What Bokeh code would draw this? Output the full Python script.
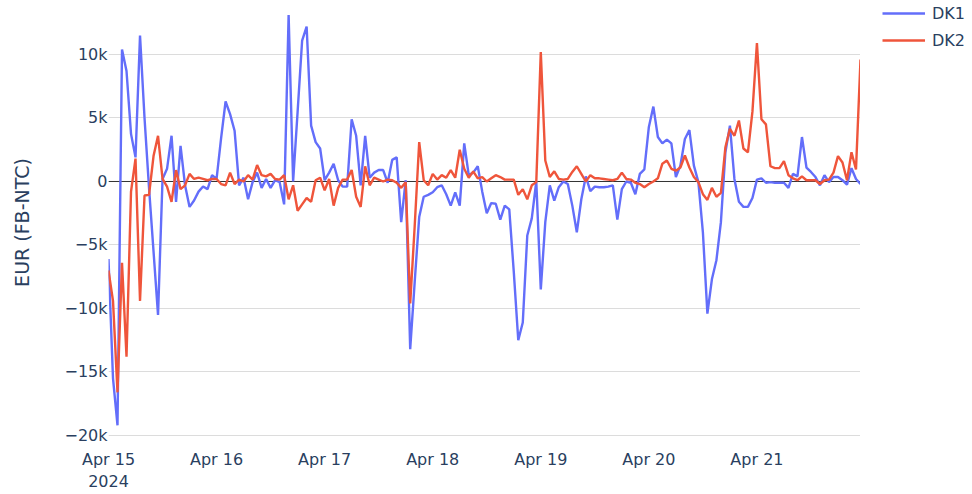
import pandas as pd
from bokeh.plotting import figure
from bokeh.layouts import row
from bokeh.models import (Range1d, FixedTicker, DaysTicker, DatetimeTickFormatter, Span,
                          Legend, LegendItem, ColumnDataSource)
from bokeh.embed import file_html
from bokeh.resources import INLINE

# ---- data (EUR, hourly from 2024-04-15 00:00) ----
START = "2024-04-15 00:00"
DK1 = [-6100, -15500, -19200, 10400, 8700, 3750, 1900, 11500, 5000, -500,
       -5500, -10500, 200, 1000, 3600, -1600, 2800, -300, -2000, -1500,
       -800, -400, -600, 500, 200, 3400, 6300, 5300, 4000, -300,
       300, -1400, -50, 700, -500, 200, -500, 100, -50, -1800,
       13100, 0, 5500, 11100, 12200, 4400, 3100, 2600, 100, 700,
       1400, 100, -400, -400, 4900, 3600, -300, 3600, 300, 700,
       900, 900, -100, 1700, 1900, -3200, 100, -13200, -7900, -2800,
       -1200, -1050, -850, -450, -300, -1000, -1900, -850, -1900, 3000,
       500, 700, 1200, -800, -2500, -1700, -1750, -3000, -1900, -2200,
       -7100, -12500, -11100, -4250, -2900, 0, -8500, -3200, -300, -1500,
       -450, 0, -200, -1900, -4000, -1400, 400, -750, -400, -450,
       -450, -400, -300, -3000, -600, 0, -100, -1000, 600, 950,
       4300, 5900, 3500, 3000, 3300, 3000, 350, 1250, 3350, 4050,
       1250, -50, -4000, -10400, -7700, -6200, -3200, 2300, 4400, 200,
       -1600, -2000, -2000, -1300, 150, 250, -100, -50, -100, -100,
       -100, -500, 600, 400, 3500, 1100, 750, 350, -300, 500,
       -50, 350, 350, 100, -250, 1050, 200, -200]
DK2 = [-7000, -9400, -16600, -6400, -13800, -800, 1800, -9400, -1100, -1050,
       2000, 3600, 200, -400, -1600, 900, -600, -300, 600, 200,
       300, 200, 100, 200, 200, -200, -300, 700, -200, 150,
       0, 500, 150, 1300, 500, 400, 600, 200, 150, 500,
       -1400, -300, -2300, -1800, -1300, -1600, 100, 300, -700, 200,
       -1900, -500, 150, 150, 900, -1200, -2000, 1200, -300, 300,
       150, 0, 150, 100, -100, -500, -50, -9600, -3500, 3100,
       100, -300, 600, 150, 500, 300, 900, 300, 2500, 1000,
       300, 800, 250, 350, 0, 250, 500, 350, 150, 150,
       150, -1050, -600, -1400, -300, -50, 10200, 1650, 350, 800,
       200, 150, 200, 750, 1200, 600, 0, 500, 250, 250,
       200, 150, 100, 200, 700, 200, 150, -100, -200, -450,
       -200, 0, 250, 1400, 1650, 1000, 850, 1100, 2050, 1100,
       350, -50, -1000, -1450, -500, -1200, -900, 2700, 4150, 3600,
       4800, 2600, 2300, 5500, 10900, 4900, 4500, 1200, 1050, 1050,
       1600, 500, 250, 100, 400, 100, 100, 100, -200, 100,
       150, 700, 2000, 1500, 100, 2300, 950, 9600]
SERIES = ["DK1", "DK2"]
COLORS = ["#636EFA", "#EF553B"]
Y_TICKS = [-20000, -15000, -10000, -5000, 0, 5000, 10000]
Y_LABELS = ["\u221220k", "\u221215k", "\u221210k", "\u22125k", "0", "5k", "10k"]
Y_TITLE = "EUR (FB-NTC)"

times = pd.date_range(START, periods=len(DK1), freq="h")
src = ColumnDataSource(dict(t=times, DK1=DK1, DK2=DK2))

FONT = "DejaVu Sans"
TXT = "#2a3f5f"

p = figure(width=860, height=494, x_axis_type="datetime", output_backend="svg",
           toolbar_location=None,
           x_range=Range1d(times[0], times[-1]), y_range=Range1d(-20709, 14252),
           min_border_left=108, min_border_right=0, min_border_top=0, min_border_bottom=50)
p.outline_line_color = None
p.background_fill_color = "white"
p.border_fill_color = "white"

p.xgrid.grid_line_color = None
p.ygrid.grid_line_color = "#dcdcdc"
p.ygrid.grid_line_width = 1

zero = Span(location=0, dimension="width", line_color="#333333", line_width=1, level="underlay")
p.add_layout(zero)

for name, col in zip(SERIES, COLORS):
    p.line(x="t", y=name, source=src, line_color=col, line_width=2.4)

# y axis
ya = p.yaxis[0]
ya.ticker = FixedTicker(ticks=Y_TICKS)
ya.major_label_overrides = {t: l for t, l in zip(Y_TICKS, Y_LABELS)}
ya.axis_line_color = None
ya.major_tick_line_color = None
ya.minor_tick_line_color = None
ya.major_tick_out = 0
ya.major_tick_in = 0
ya.major_label_standoff = 1
ya.major_label_text_font = FONT
ya.major_label_text_font_size = "16px"
ya.major_label_text_color = TXT
ya.axis_label = Y_TITLE
ya.axis_label_text_font = FONT
ya.axis_label_text_font_size = "19px"
ya.axis_label_text_font_style = "normal"
ya.axis_label_text_color = TXT
ya.axis_label_standoff = 28

# x axis
xa = p.xaxis[0]
xa.ticker = DaysTicker(days=list(range(1, 32)))
xa.formatter = DatetimeTickFormatter(days="%b %d", context="%Y", context_which="start",
                                     context_location="below")
xa.axis_line_color = None
xa.major_tick_line_color = None
xa.minor_tick_line_color = None
xa.major_tick_out = 0
xa.major_tick_in = 0
xa.major_label_standoff = 5
xa.major_label_text_font = FONT
xa.major_label_text_font_size = "16px"
xa.major_label_text_color = TXT

# ---- legend panel (separate narrow figure to the right) ----
lg = figure(width=112, height=494, output_backend="svg", toolbar_location=None,
            x_axis_location=None, y_axis_location=None,
            x_range=Range1d(0, 1), y_range=Range1d(0, 1),
            min_border_left=19, min_border_right=0, min_border_top=0, min_border_bottom=0)
lg.outline_line_color = None
lg.xgrid.grid_line_color = None
lg.ygrid.grid_line_color = None
lg.background_fill_color = "white"
lg.border_fill_color = "white"
leg_renderers = []
for name, col in zip(SERIES, COLORS):
    # keys only: data lies outside this panel's ranges
    leg_renderers.append(lg.line(x="t", y=name, source=src, line_color=col, line_width=2.4))

legend = Legend(items=[LegendItem(label=n, renderers=[r]) for n, r in zip(SERIES, leg_renderers)],
                location="top_left", orientation="vertical", margin=3, padding=0, spacing=7,
                glyph_width=43, glyph_height=20, label_standoff=7,
                label_text_font=FONT, label_text_font_size="16px", label_text_color=TXT,
                border_line_color=None, background_fill_alpha=0)
lg.add_layout(legend, "center")

layout = row(p, lg, spacing=0)
open("out.html", "w").write(file_html(layout, INLINE))
